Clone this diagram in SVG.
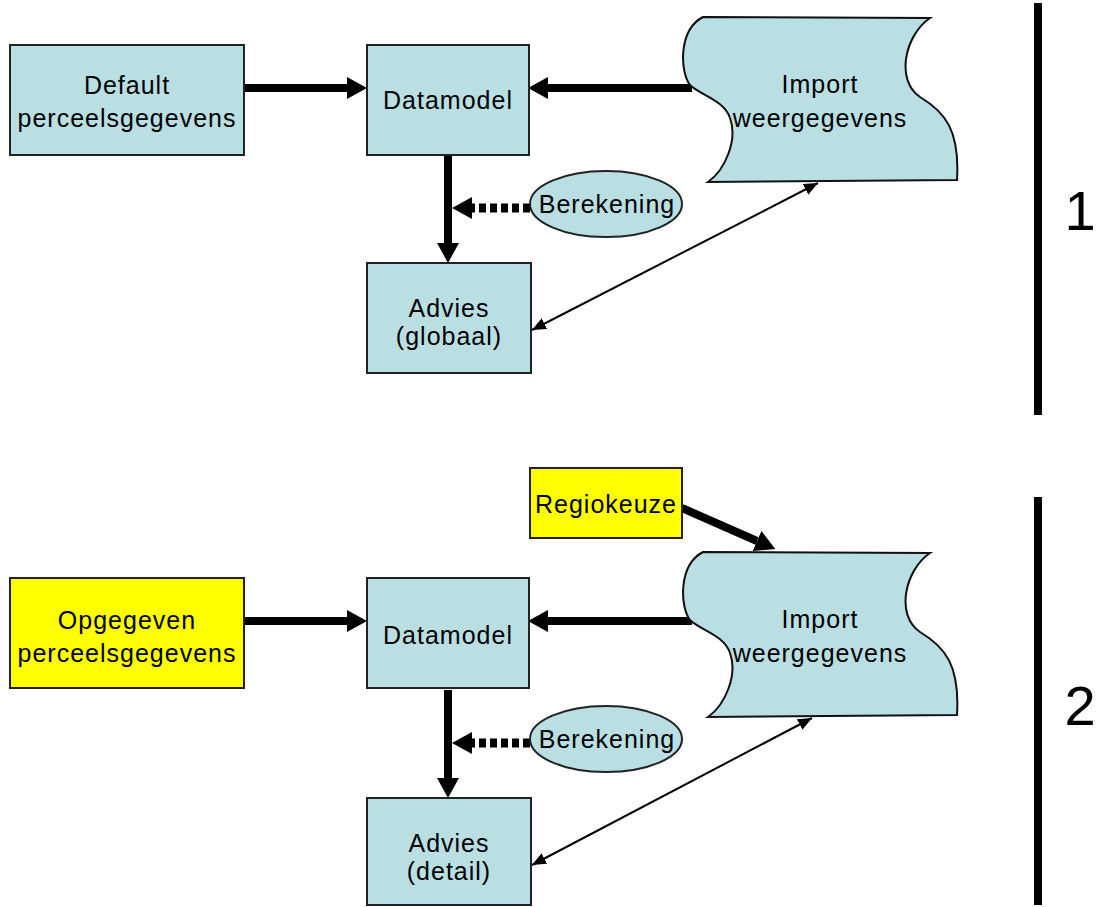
<svg xmlns="http://www.w3.org/2000/svg" width="1098" height="907" viewBox="0 0 1098 907">
<defs>
<style>
.box{fill:#badfe3;stroke:#222;stroke-width:2}
.yel{fill:#ffff00;stroke:#222;stroke-width:2}
.tape{fill:#badfe3;stroke:#111;stroke-width:2}
.t{font-family:"Liberation Sans",Arial,sans-serif;font-size:25px;letter-spacing:1px;fill:#000;text-anchor:middle}
.num{font-family:"Liberation Sans",Arial,sans-serif;font-size:56px;fill:#000;text-anchor:middle}
.thick{stroke:#000;stroke-width:8;fill:none}
.dot{stroke:#000;stroke-width:9;fill:none;stroke-dasharray:7 4}
.thin{stroke:#000;stroke-width:2;fill:none}
.bar{stroke:#000;stroke-width:8}
</style>
<marker id="ah" markerUnits="userSpaceOnUse" viewBox="0 0 20 22" refX="0" refY="11" markerWidth="20" markerHeight="22" orient="auto"><path d="M0,0 L20,11 L0,22 Z" fill="#000"/></marker>
<marker id="ahs" markerUnits="userSpaceOnUse" viewBox="0 0 14 12" refX="14" refY="6" markerWidth="14" markerHeight="12" orient="auto"><path d="M0,0 L14,6 L0,12 Z" fill="#000"/></marker>
<marker id="ahsr" markerUnits="userSpaceOnUse" viewBox="0 0 14 12" refX="0" refY="6" markerWidth="14" markerHeight="12" orient="auto"><path d="M14,0 L0,6 L14,12 Z" fill="#000"/></marker>
<path id="tapeShape" d="M703,17 L930,18 C905,35 895,80 920,97 C945,112 960,130 957,180 L708,182 C725,170 738,140 730,118 C724,100 700,95 690,85 C680,72 678,30 703,17 Z"/>
</defs>

<g id="connectors">
<line class="thick" x1="245" y1="88" x2="347" y2="88" marker-end="url(#ah)"/>
<line class="thick" x1="692" y1="88" x2="548" y2="88" marker-end="url(#ah)"/>
<line class="thick" x1="448" y1="155" x2="448" y2="243" marker-end="url(#ah)"/>
<line class="dot" x1="530" y1="208" x2="472" y2="208" marker-end="url(#ah)"/>
<line class="thin" x1="532" y1="330" x2="818" y2="183" marker-start="url(#ahsr)" marker-end="url(#ahs)"/>

<line class="thick" x1="682" y1="508" x2="757" y2="541" marker-end="url(#ah)"/>
<line class="thick" x1="245" y1="621" x2="347" y2="621" marker-end="url(#ah)"/>
<line class="thick" x1="692" y1="621" x2="548" y2="621" marker-end="url(#ah)"/>
<line class="thick" x1="448" y1="690" x2="448" y2="778" marker-end="url(#ah)"/>
<line class="dot" x1="530" y1="743" x2="472" y2="743" marker-end="url(#ah)"/>
<line class="thin" x1="532" y1="865" x2="812" y2="718" marker-start="url(#ahsr)" marker-end="url(#ahs)"/>
</g>

<g id="default">
<rect class="box" x="10" y="45" width="234" height="110"/>
<text class="t" x="127" y="94">Default</text>
<text class="t" x="127" y="127">perceelsgegevens</text>
</g>
<g id="datamodel1">
<rect class="box" x="367" y="45" width="162" height="110"/>
<text class="t" x="448" y="109">Datamodel</text>
</g>
<g id="import1">
<use href="#tapeShape" class="tape"/>
<text class="t" x="820" y="93">Import</text>
<text class="t" x="820" y="127">weergegevens</text>
</g>
<g id="berekening1">
<ellipse class="box" cx="606" cy="204" rx="76" ry="33"/>
<text class="t" x="607" y="213">Berekening</text>
</g>
<g id="advies1">
<rect class="box" x="367" y="263" width="164" height="110"/>
<text class="t" x="449" y="317">Advies</text>
<text class="t" x="449" y="345">(globaal)</text>
</g>
<g id="section1">
<line class="bar" x1="1038" y1="3" x2="1038" y2="415"/>
<text class="num" x="1080" y="230">1</text>
</g>

<g id="regiokeuze">
<rect class="yel" x="530" y="468" width="152" height="70"/>
<text class="t" x="606" y="513">Regiokeuze</text>
</g>
<g id="opgegeven">
<rect class="yel" x="10" y="578" width="234" height="110"/>
<text class="t" x="127" y="629">Opgegeven</text>
<text class="t" x="127" y="662">perceelsgegevens</text>
</g>
<g id="datamodel2">
<rect class="box" x="367" y="578" width="162" height="110"/>
<text class="t" x="448" y="644">Datamodel</text>
</g>
<g id="import2">
<use href="#tapeShape" class="tape" transform="translate(0,535)"/>
<text class="t" x="820" y="628">Import</text>
<text class="t" x="820" y="662">weergegevens</text>
</g>
<g id="berekening2">
<ellipse class="box" cx="606" cy="739" rx="76" ry="33"/>
<text class="t" x="607" y="748">Berekening</text>
</g>
<g id="advies2">
<rect class="box" x="367" y="798" width="164" height="107"/>
<text class="t" x="449" y="852">Advies</text>
<text class="t" x="449" y="880">(detail)</text>
</g>
<g id="section2">
<line class="bar" x1="1038" y1="497" x2="1038" y2="905"/>
<text class="num" x="1080" y="725">2</text>
</g>
</svg>
